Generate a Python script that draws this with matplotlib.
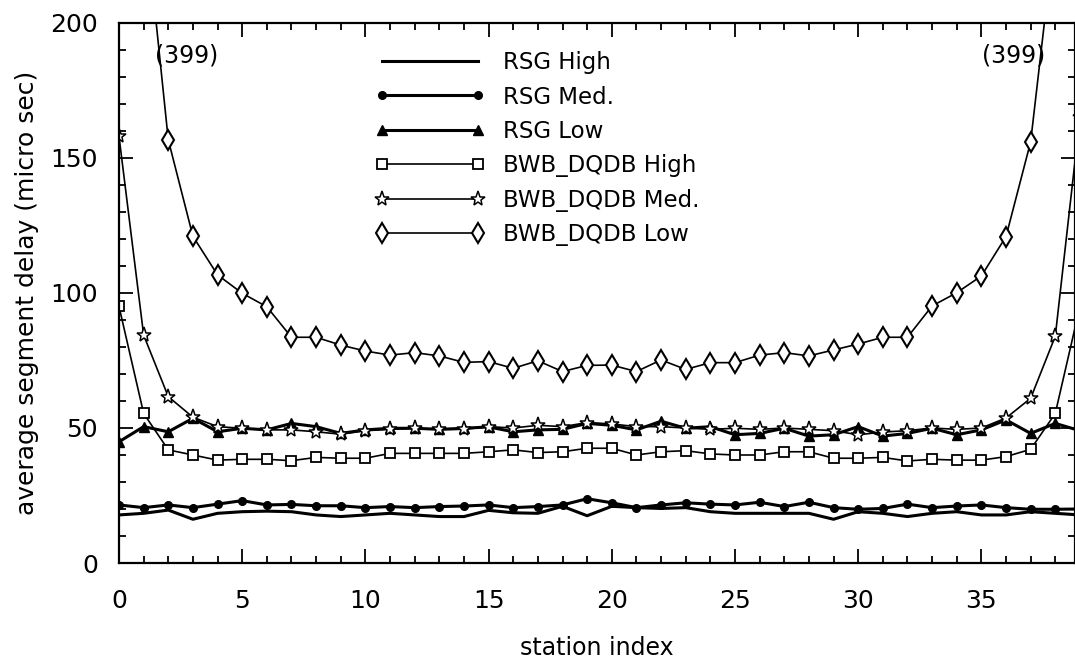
import numpy as np
import matplotlib.pyplot as plt
from matplotlib.ticker import MultipleLocator

# station index 0..39
stations = np.arange(40)

rsg_high = [17.8, 18.4, 19.6, 16.2, 18.4, 19.0, 19.2, 19.0, 17.8, 17.2,
            17.8, 18.4, 17.8, 17.2, 17.2, 19.5, 18.6, 18.4, 21.0, 17.5,
            21.0, 20.5, 20.2, 20.5, 19.0, 18.4, 18.4, 18.4, 18.4, 16.2,
            19.0, 18.4, 17.2, 18.4, 19.0, 17.8, 17.8, 19.0, 18.4, 17.8]
rsg_med = [21.5, 20.5, 21.5, 20.5, 21.8, 23.1, 21.5, 21.7, 21.2, 21.2,
           20.5, 20.9, 20.5, 20.9, 21.1, 21.5, 20.5, 20.9, 21.5, 23.8,
           22.3, 20.5, 21.5, 22.3, 21.8, 21.5, 22.5, 20.9, 22.5, 20.5,
           19.9, 20.2, 21.8, 20.5, 21.1, 21.5, 20.5, 19.9, 19.9, 20.0]
rsg_low = [44.9, 50.5, 48.6, 53.6, 48.6, 49.9, 49.3, 51.7, 50.5, 48.0,
           49.3, 49.9, 49.9, 49.5, 49.9, 50.4, 48.6, 49.3, 49.5, 51.7,
           51.0, 49.3, 52.5, 49.9, 50.5, 47.5, 48.0, 49.9, 47.0, 47.5,
           50.5, 47.0, 48.0, 49.9, 47.5, 49.3, 53.0, 48.0, 51.7, 49.0]
bwb_high = [95.0, 55.4, 41.9, 40.0, 38.1, 38.4, 38.4, 37.9, 39.1, 38.8,
            38.8, 40.6, 40.6, 40.6, 40.6, 41.2, 41.9, 40.9, 41.2, 42.5,
            42.5, 40.0, 41.2, 41.6, 40.4, 40.0, 40.0, 41.2, 41.2, 38.8,
            38.8, 39.1, 37.8, 38.4, 38.1, 38.1, 39.4, 42.1, 55.4, 95.0]
bwb_med = [158.0, 84.4, 61.6, 54.0, 50.5, 49.9, 49.3, 49.3, 48.6, 47.7,
           49.0, 49.5, 49.9, 49.5, 49.5, 50.5, 50.0, 51.0, 50.5, 52.0,
           51.5, 50.5, 50.5, 50.0, 49.5, 49.9, 49.5, 50.0, 49.5, 49.0,
           47.5, 48.5, 49.0, 50.0, 49.5, 50.0, 53.7, 61.0, 84.0, 165.0]
bwb_low = [399.0, 245.0, 156.7, 121.0, 106.7, 99.9, 94.9, 83.6, 83.6, 80.7,
           78.5, 77.0, 77.9, 76.7, 74.3, 74.6, 72.1, 74.9, 70.9, 73.2,
           73.3, 70.9, 75.2, 71.7, 74.2, 74.2, 77.0, 77.9, 76.7, 78.9,
           81.1, 83.6, 83.6, 95.2, 100.1, 106.3, 120.9, 156.0, 235.0, 399.0]

plt.rcParams['font.family'] = 'DejaVu Sans'

fig = plt.figure(figsize=(10.75, 6.7), dpi=100)
ax = fig.add_axes([0.1107, 0.1597, 0.8893, 0.806])

ax.plot(stations, rsg_high, color='black', lw=2.2, label='RSG High')
ax.plot(stations, rsg_med, color='black', lw=2.2, marker='o', ms=5.5,
        label='RSG Med.')
ax.plot(stations, rsg_low, color='black', lw=2.2, marker='^', ms=7,
        label='RSG Low')
ax.plot(stations, bwb_high, color='black', lw=1.2, marker='s', ms=6.5,
        mfc='white', mew=1.3, label='BWB_DQDB High')
ax.plot(stations, bwb_med, color='black', lw=1.2, marker='*', ms=11,
        mfc='white', mew=1.1, label='BWB_DQDB Med.')
ax.plot(stations, bwb_low, color='black', lw=1.2, marker='d', ms=10,
        mfc='white', mew=1.5, label='BWB_DQDB Low')

ax.text(2.75, 188, '(399)', fontsize=17, ha='center', va='center')
ax.text(36.3, 188, '(399)', fontsize=17, ha='center', va='center')

ax.set_xlim(0, 38.8)
ax.set_ylim(0, 200)
ax.xaxis.set_major_locator(MultipleLocator(5))
ax.xaxis.set_minor_locator(MultipleLocator(1))
ax.yaxis.set_major_locator(MultipleLocator(50))
ax.yaxis.set_minor_locator(MultipleLocator(10))
ax.tick_params(which='both', direction='in', top=True, right=True,
               labelsize=18, width=1.3)
ax.tick_params(axis='x', which='major', pad=19)
ax.tick_params(axis='y', which='major', pad=15)
ax.tick_params(which='major', length=10)
ax.tick_params(which='minor', length=5)
for s in ax.spines.values():
    s.set_linewidth(1.6)

ax.set_xlabel('station index', fontsize=17, labelpad=16)
ax.set_ylabel('average segment delay (micro sec)', fontsize=18, labelpad=8)

ax.legend(loc='upper left', bbox_to_anchor=(0.2678, 0.948), frameon=False,
          fontsize=16.5, handlelength=4.8, numpoints=2, labelspacing=0.5,
          handletextpad=0.8, borderpad=0, borderaxespad=0)

plt.savefig('out.png', dpi=100)
